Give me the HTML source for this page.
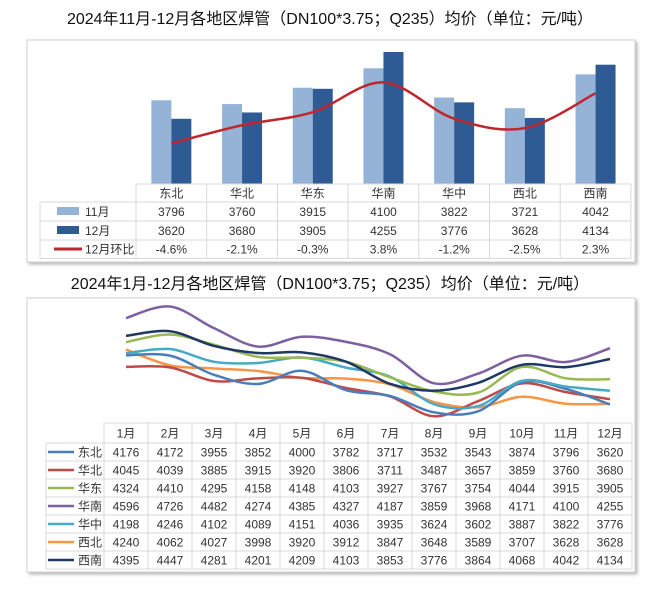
<!DOCTYPE html>
<html><head><meta charset="utf-8">
<style>
body{margin:0;background:#fff;width:660px;height:605px;overflow:hidden;font-family:"Liberation Sans","Noto Sans CJK SC",sans-serif;}
svg text{font-family:"Liberation Sans","Noto Sans CJK SC",sans-serif;}
</style></head>
<body>
<svg id="c" width="660" height="605" xmlns="http://www.w3.org/2000/svg">
<defs><filter id="sh" x="-5%" y="-5%" width="110%" height="115%"><feDropShadow dx="2" dy="2" stdDeviation="1.5" flood-color="#999" flood-opacity="0.7"/></filter></defs>
<text x="330" y="24" text-anchor="middle" font-size="16" fill="#111">2024年11月-12月各地区焊管（DN100*3.75；Q235）均价（单位：元/吨）</text>
<rect x="27" y="40" width="608" height="222" fill="#fff" stroke="#d0d0d0" filter="url(#sh)"/>
<text x="330" y="289" text-anchor="middle" font-size="16" fill="#111">2024年1月-12月各地区焊管（DN100*3.75；Q235）均价（单位：元/吨）</text>
<rect x="27" y="298" width="608" height="274" fill="#fff" stroke="#d0d0d0" filter="url(#sh)"/>
<g id="topChart"></g><g id="botChart"></g>
</svg>
<script>
const regions=['东北','华北','华东','华南','华中','西北','西南'];
const nov=[3796,3760,3915,4100,3822,3721,4042];
const dec=[3620,3680,3905,4255,3776,3628,4134];
const mom=[-4.6,-2.1,-0.3,3.8,-1.2,-2.5,2.3];
const momLabels=['-4.6%','-2.1%','-0.3%','3.8%','-1.2%','-2.5%','2.3%'];
const months=['1月','2月','3月','4月','5月','6月','7月','8月','9月','10月','11月','12月'];
const sNE=[4176,4172,3955,3852,4000,3782,3717,3532,3543,3874,3796,3620];
const sNC=[4045,4039,3885,3915,3920,3806,3711,3487,3657,3859,3760,3680];
const sEC=[4324,4410,4295,4158,4148,4103,3927,3767,3754,4044,3915,3905];
const sSC=[4596,4726,4482,4274,4385,4327,4187,3859,3968,4171,4100,4255];
const sCC=[4198,4246,4102,4089,4151,4036,3935,3624,3602,3887,3822,3776];
const sNW=[4240,4062,4027,3998,3920,3912,3847,3648,3589,3707,3628,3628];
const sSW=[4395,4447,4281,4201,4209,4103,3853,3776,3864,4068,4042,4134];
const NS='http://www.w3.org/2000/svg';
function mk(p,t,a,txt){const e=document.createElementNS(NS,t);for(const k in a)e.setAttribute(k,a[k]);if(txt!==undefined)e.textContent=txt;p.appendChild(e);return e;}
function smooth(pts){let d='M'+pts[0][0]+','+pts[0][1];for(let i=0;i<pts.length-1;i++){const p0=pts[i-1]||pts[i],p1=pts[i],p2=pts[i+1],p3=pts[i+2]||p2;const t=6;d+=' C'+(p1[0]+(p2[0]-p0[0])/t)+','+(p1[1]+(p2[1]-p0[1])/t)+' '+(p2[0]-(p3[0]-p1[0])/t)+','+(p2[1]-(p3[1]-p1[1])/t)+' '+p2[0]+','+p2[1];}return d;}
// top chart
const topG=document.getElementById('topChart');
const tL=136,cw=70.7,base=184;
const yT=v=>base-(v-3000)*0.1052;
const yM=v=>110-v*7.26;
const xT=i=>tL+cw*(i+0.5);
regions.forEach((r,i)=>{
 let b=mk(topG,'rect',{x:xT(i)-20,y:yT(nov[i]),width:20,height:base-yT(nov[i]),fill:'#95b3d7'});
 
 
 b=mk(topG,'rect',{x:xT(i),y:yT(dec[i]),width:20,height:base-yT(dec[i]),fill:'#2f5b94'});
 
 
});
let ln=mk(topG,'path',{d:smooth(mom.map((v,i)=>[xT(i),yM(v)])),fill:'none',stroke:'#c0272d','stroke-width':2.5});


// top table
const rowsY=[184,202,221,240,258.5];
const tg=mk(topG,'g',{stroke:'#d9d9d9','stroke-width':1});
mk(tg,'line',{x1:tL,y1:184,x2:631,y2:184});
for(let k=1;k<5;k++)mk(tg,'line',{x1:40,y1:rowsY[k],x2:631,y2:rowsY[k]});
for(let i=0;i<=7;i++)mk(tg,'line',{x1:tL+cw*i,y1:184,x2:tL+cw*i,y2:258.5});
mk(tg,'line',{x1:40,y1:202,x2:40,y2:258.5});
regions.forEach((r,i)=>{
 let t=mk(topG,'text',{x:xT(i),y:197.5,'text-anchor':'middle','font-size':12,fill:'#333'},r);
 
 
 t=mk(topG,'text',{x:xT(i),y:216,'text-anchor':'middle','font-size':12,fill:'#333'},nov[i]);
 
 
 t=mk(topG,'text',{x:xT(i),y:235,'text-anchor':'middle','font-size':12,fill:'#333'},dec[i]);
 
 
 t=mk(topG,'text',{x:xT(i),y:253.5,'text-anchor':'middle','font-size':12,fill:'#333'},momLabels[i]);
 
 
});
let lg=mk(topG,'rect',{x:57,y:207,width:22,height:8,fill:'#95b3d7'});


lg=mk(topG,'rect',{x:57,y:226,width:22,height:8,fill:'#2f5b94'});


lg=mk(topG,'line',{x1:54,y1:249,x2:82,y2:249,stroke:'#c0272d','stroke-width':3});


[['11月',216],['12月',235],['12月环比',253.5]].forEach(([s,y])=>{const t=mk(topG,'text',{x:85,y:y,'font-size':12,fill:'#333'},s);
 
 });
// bottom chart
const botG=document.getElementById('botChart');
const bL=104,bw=44;
const xB=i=>bL+bw*(i+0.5);
const yB=v=>424-(v-3400)*0.0886;
const series=[sNE,sNC,sEC,sSC,sCC,sNW,sSW];
const colors=['#4a7ebb','#be4b48','#98b954','#7d60a0','#46aac5','#f79646','#1f3864'];
const drawOrder=[5,1,0,4,2,6,3];
drawOrder.forEach(k=>{const p=mk(botG,'path',{d:smooth(series[k].map((v,i)=>[xB(i),yB(v)])),fill:'none',stroke:colors[k],'stroke-width':2.5});
 
 });
const bg=mk(botG,'g',{stroke:'#d9d9d9','stroke-width':1});
mk(bg,'line',{x1:bL,y1:423,x2:632,y2:423});
for(let k=0;k<=7;k++)mk(bg,'line',{x1:46,y1:443+18*k,x2:632,y2:443+18*k});
for(let i=0;i<=12;i++)mk(bg,'line',{x1:bL+bw*i,y1:423,x2:bL+bw*i,y2:569});
mk(bg,'line',{x1:46,y1:443,x2:46,y2:569});
months.forEach((m,i)=>{const t=mk(botG,'text',{x:xB(i),y:437.5,'text-anchor':'middle','font-size':12,fill:'#333'},m);
 
 });
series.forEach((s,k)=>{
 const y=443+18*k;
 const l=mk(botG,'line',{x1:48,y1:y+9,x2:74,y2:y+9,stroke:colors[k],'stroke-width':2.5});
 
 
 let t=mk(botG,'text',{x:78,y:y+13.5,'font-size':12,fill:'#333'},regions[k]);
 
 
 s.forEach((v,i)=>{const t=mk(botG,'text',{x:xB(i),y:y+13.5,'text-anchor':'middle','font-size':12,fill:'#333'},v);
  
  });
});
</script>
</body></html>
